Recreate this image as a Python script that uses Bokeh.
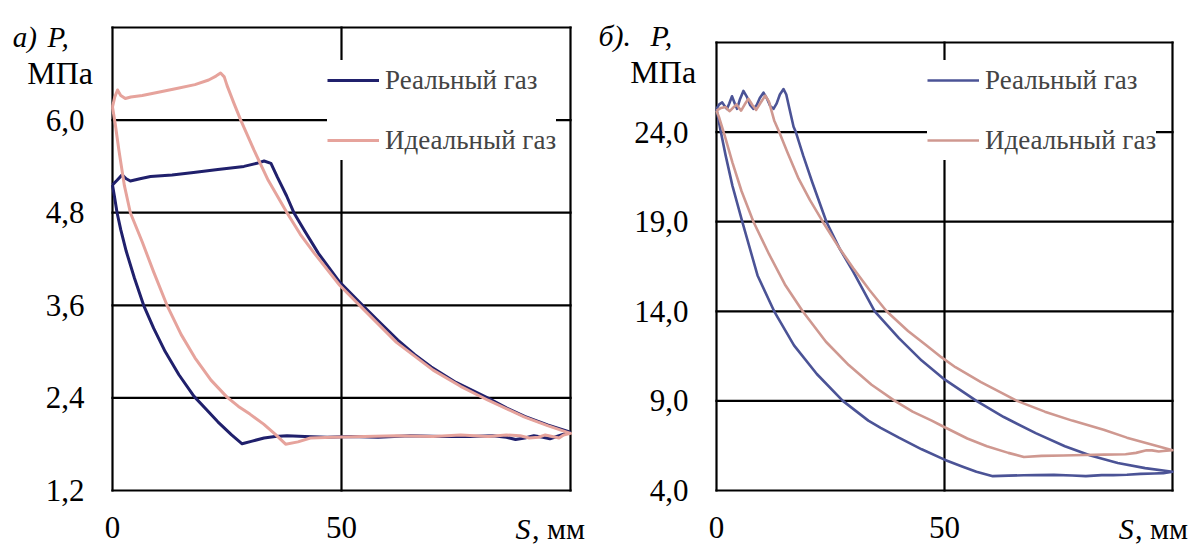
from bokeh.plotting import figure
from bokeh.models import Range1d, FixedTicker, Label, Legend, LegendItem, LinearAxis
from bokeh.layouts import row
from bokeh.embed import file_html
from bokeh.resources import INLINE

# ---------------- data: panel а) ----------------
a_real_S = [0, 1, 2.1, 3, 3.9, 6, 8.3, 13, 17.7, 23, 28.7, 31.5, 33.1, 34.6,
            36, 38, 39.6, 42, 45, 49.6, 54.6, 58, 62.3, 66, 69.6, 75, 81.9, 86, 90, 95, 99.8,
            98.5, 97, 95.5, 94, 92, 90, 88, 86, 83, 78, 72, 65, 58, 52, 46.9, 42, 38.1, 35.5,
            33.1, 30.5, 28.3,
            26, 23, 20.5, 17.8, 14.5, 11.5, 9, 6.8, 4.8, 3, 1.8, 1.0, 0.4, 0]
a_real_P = [5.16, 5.22, 5.29, 5.24, 5.21, 5.24, 5.27, 5.29, 5.32, 5.36, 5.40, 5.44, 5.47, 5.44,
            5.26, 5.02, 4.8, 4.56, 4.27, 3.90, 3.6, 3.4, 3.15, 2.96, 2.80, 2.6, 2.4, 2.27, 2.16, 2.05, 1.96,
            1.93, 1.9, 1.87, 1.89, 1.91, 1.88, 1.86, 1.89, 1.91, 1.90, 1.9, 1.91, 1.89, 1.9, 1.89, 1.9, 1.91, 1.9,
            1.88, 1.84, 1.805,
            1.92, 2.09, 2.25, 2.42, 2.7, 3.0, 3.3, 3.6, 3.95, 4.3, 4.58, 4.8, 5.02, 5.16]

a_ideal_S = [0, 0.5, 1.1, 1.8, 2.8, 4, 6.5, 10, 14, 18, 21, 22.6, 23.6, 24.4,
             25, 26.5, 28, 30.9, 34, 38.1, 41, 44, 49.6, 54.6, 62, 70, 76, 82, 90, 95, 100,
             98.5, 97.5, 96, 94.5, 93, 91, 89, 86, 82, 76, 70, 62, 55, 48, 43.2, 40.5, 37.8,
             35.5, 33, 30, 27.5, 25, 21.5, 18, 15, 11.9, 9, 6.5, 3.9, 2.6, 1.4, 0.6, 0]
a_ideal_P = [6.17, 6.3, 6.39, 6.32, 6.28, 6.30, 6.32, 6.36, 6.41, 6.46, 6.52, 6.57, 6.61, 6.56,
             6.45, 6.22, 6.0, 5.61, 5.22, 4.8, 4.52, 4.28, 3.86, 3.56, 3.12, 2.76, 2.55, 2.37, 2.15, 2.04, 1.94,
             1.92, 1.88, 1.9, 1.92, 1.89, 1.88, 1.91, 1.92, 1.9, 1.92, 1.9, 1.91, 1.9, 1.89, 1.88, 1.83, 1.80,
             1.93, 2.06, 2.19, 2.29, 2.41, 2.63, 2.92, 3.22, 3.6, 4.03, 4.42, 4.8, 5.15, 5.61, 5.95, 6.17]

# ---------------- data: panel б) ----------------
b_real_S = [0, 0.6, 1.25, 1.8, 2.3, 2.8, 3.4, 4.0, 4.5, 5.1, 5.9, 6.7, 7.4, 8.1, 8.8, 9.5, 10.3,
            11.1, 11.8, 12.5, 13.2, 13.9, 14.7,
            15.3, 16, 16.9, 17.4, 19, 21, 24.1, 27, 30, 34.7, 40, 45, 50, 57, 63, 70, 76.4, 82, 88, 94, 100,
            98, 96, 93, 90, 87, 84.5, 81, 78, 74, 70, 67.4, 64, 60.6,
            57, 54, 50, 45, 40, 36, 33.3, 27.7, 22, 17, 12.65, 9, 5.65, 3.5, 2, 0.8, 0]
b_real_P = [25.3, 25.55, 25.66, 25.45, 25.3, 25.6, 26.0, 25.6, 25.3, 25.8, 26.3, 25.95, 25.5, 25.3, 25.5, 25.9, 26.2,
            25.85, 25.45, 25.3, 25.6, 26.1, 26.4,
            26.1, 25.3, 24.3, 24.0, 22.7, 21.2, 19.0, 17.5, 16.2, 14.0, 12.5, 11.25, 10.2, 9.0, 8.1, 7.2, 6.47, 5.95, 5.53, 5.25, 5.05,
            4.97, 4.95, 4.93, 4.88, 4.86, 4.86, 4.8, 4.84, 4.87, 4.86, 4.85, 4.83, 4.80,
            5.05, 5.33, 5.72, 6.3, 6.95, 7.5, 7.9, 9.0, 10.5, 12.1, 14.0, 16.0, 19.0, 21.0, 22.7, 24.2, 25.3]

b_ideal_S = [0, 1.0, 2.0, 2.5, 2.9, 3.6, 4.4, 4.9, 5.4, 6.2, 7.0, 7.9, 8.7, 9.7, 10.7,
             11.5, 12.65, 13.75, 15.5, 18, 20.5, 23.3, 27, 30, 33.5, 37.3, 42, 46, 49.3, 52.4, 58, 65.9, 72, 78, 84.9, 90, 95, 100,
             98, 97, 95.5, 94.3, 92, 89.7, 85, 80.6, 76, 71.3, 67.4,
             64, 59.3, 55, 49.5, 47.2, 43, 39.1, 34, 29, 24, 18.9, 15, 11.5, 8.1, 5.5, 3.5, 1.8, 0.6, 0]
b_ideal_P = [25.2, 25.35, 25.4, 25.25, 25.17, 25.35, 25.55, 25.35, 25.2, 25.55, 25.86, 25.5, 25.24, 25.65, 26.04,
             25.7, 24.65, 24.0, 22.9, 21.4, 20.2, 19.0, 17.5, 16.4, 15.2, 14.0, 12.9, 12.1, 11.44, 10.88, 10.05, 9.0, 8.4, 7.9, 7.39, 6.95, 6.6, 6.25,
             6.2, 6.18, 6.24, 6.24, 6.1, 6.02, 6.0, 5.98, 5.95, 5.93, 5.87,
             6.1, 6.47, 6.9, 7.6, 7.9, 8.4, 9.0, 9.9, 11.0, 12.3, 14.0, 15.5, 17.2, 19.0, 20.7, 22.3, 23.8, 24.8, 25.2]

a_yticks = [1.2, 2.4, 3.6, 4.8, 6.0]
a_ylabels = ["1,2", "2,4", "3,6", "4,8", "6,0"]
a_ylim = (1.2, 7.2)
b_yticks = [4.0, 9.0, 14.0, 19.0, 24.0]
b_ylabels = ["4,0", "9,0", "14,0", "19,0", "24,0"]
b_ylim = (4.0, 29.0)
xticks = [0, 50]
xlabels = ["0", "50"]
xlim = (0, 100)
series_names = ["Реальный газ", "Идеальный газ"]

FONT = "Liberation Serif"


def panel(width, height, xr, yr, ylim, yticks, ylabels, real, ideal, colors, lw, leg_loc):
    p = figure(width=width, height=height, output_backend="svg", toolbar_location=None,
               x_range=Range1d(*xr), y_range=Range1d(*yr),
               x_axis_location=None, y_axis_location=None, min_border=0)
    p.outline_line_color = None
    p.background_fill_color = "white"
    p.border_fill_color = "white"
    p.xgrid.visible = False
    p.ygrid.visible = False

    yax = LinearAxis(fixed_location=xlim[0], ticker=FixedTicker(ticks=yticks),
                     major_label_overrides={t: l for t, l in zip(yticks, ylabels)},
                     major_label_standoff=28)
    xax = LinearAxis(fixed_location=ylim[0], ticker=FixedTicker(ticks=xticks),
                     major_label_overrides={t: l for t, l in zip(xticks, xlabels)},
                     major_label_standoff=26)
    for ax in (yax, xax):
        ax.axis_line_color = None
        ax.major_tick_line_color = None
        ax.minor_tick_line_color = None
        ax.major_tick_out = 0
        ax.major_tick_in = 0
        ax.major_label_text_font = FONT
        ax.major_label_text_font_size = "31px"
        ax.major_label_text_color = "black"
    p.add_layout(yax, "left")
    p.add_layout(xax, "below")

    # grid lines and frame (from the tick lists and the axis limits)
    gy = yticks + [ylim[1]]
    gx = [xlim[0], 50, xlim[1]]
    p.segment(x0=[xlim[0]] * len(gy), x1=[xlim[1]] * len(gy), y0=gy, y1=gy,
              line_color="black", line_width=2.2, line_cap="square")
    p.segment(x0=gx, x1=gx, y0=[ylim[0]] * len(gx), y1=[ylim[1]] * len(gx),
              line_color="black", line_width=2.2, line_cap="square")

    r1 = p.line(real[0], real[1], line_color=colors[0], line_width=lw, line_join="round")
    r2 = p.line(ideal[0], ideal[1], line_color=colors[1], line_width=lw, line_join="round")
    leg = Legend(items=[LegendItem(label=series_names[0], renderers=[r1]),
                        LegendItem(label=series_names[1], renderers=[r2])],
                 location=leg_loc, glyph_width=52, glyph_height=40, label_height=40,
                 spacing=20, padding=8, margin=0, label_standoff=6,
                 label_text_font=FONT, label_text_font_size="27px",
                 background_fill_color="white", background_fill_alpha=1.0,
                 border_line_color=None)
    p.add_layout(leg, "center")
    return p


# left figure: page x 0..595 ; right figure: page x 595..1204 (both 550 tall)
pa = panel(595, 550, (-24.454, 105.459), (0.4225, 7.5499), a_ylim, a_yticks, a_ylabels,
           (a_real_S, a_real_P), (a_ideal_S, a_ideal_P), ("#20206c", "#e6a39c"), 3, (327, 390))
pb = panel(609, 550, (-26.535, 107.018), (0.6518, 31.344), b_ylim, b_yticks, b_ylabels,
           (b_real_S, b_real_P), (b_ideal_S, b_ideal_P), ("#4b5396", "#cf9890"), 2.6, (332, 390))


def lab(p, x, y, text, style="normal", size="30px", baseline="alphabetic"):
    p.add_layout(Label(x=x, y=y, text=text, text_font=FONT, text_font_size=size,
                       text_font_style=style, text_color="black",
                       text_align="left", text_baseline=baseline))

# panel а) texts
lab(pa, -21.8, 7.083, "а)", "italic", "29px")
lab(pa, -14.2, 7.083, "P,", "italic", "29px")
lab(pa, -18.6, 6.604, "МПа", "normal", "32px")
lab(pa, 88.0, 0.7076, "S", "italic", "30px", "middle")
lab(pa, 91.6, 0.7076, ", мм", "normal", "30px", "middle")
# panel б) texts
lab(pb, -25.9, 29.39, "б).", "italic")
lab(pb, -14.5, 29.39, "P,", "italic")
lab(pb, -18.9, 27.33, "МПа", "normal", "32px")
lab(pb, 88.2, 1.879, "S", "italic", "30px", "middle")
lab(pb, 91.8, 1.879, ", мм", "normal", "30px", "middle")

layout = row(pa, pb)
open("out.html", "w").write(file_html(layout, INLINE))
